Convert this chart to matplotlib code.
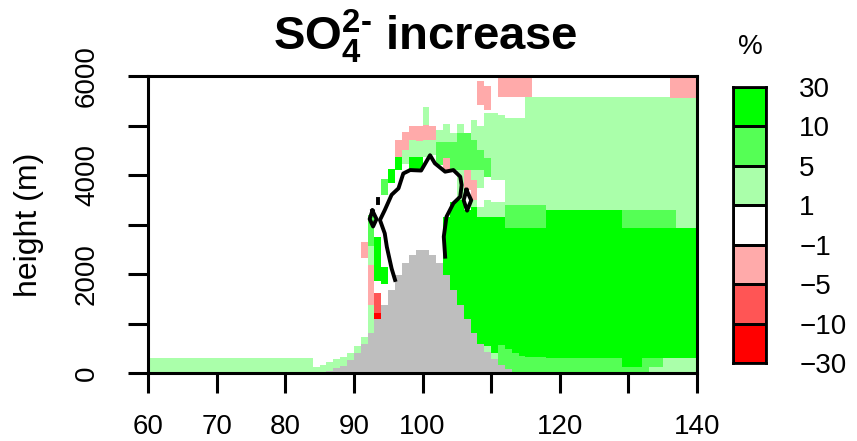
import matplotlib
matplotlib.use("Agg")
import matplotlib.pyplot as plt
import numpy as np
from matplotlib.colors import ListedColormap, BoundaryNorm

plt.rcParams['font.family'] = ['Liberation Sans', 'DejaVu Sans']
plt.rcParams['mathtext.fontset'] = 'custom'
plt.rcParams['mathtext.rm'] = 'Liberation Sans:bold'
plt.rcParams['mathtext.bf'] = 'Liberation Sans:bold'

# change classes (%) and colours
levels = [-30, -10, -5, -1, 1, 5, 10, 30]
level_labels = ['\u221230', '\u221210', '\u22125', '\u22121', '1', '5', '10', '30']
class_colors = ['#FF0000', '#FF5555', '#FFAAAA', '#FFFFFF', '#AAFFAA', '#55FF55', '#00FF00']
# letter -> a value inside each class
class_value = {'D': -20, 'R': -7, 'P': -3, 'W': 0, 'L': 3, 'M': 7, 'G': 20}

lon_first, lon_last = 60, 140

# surface height (m) of each 1 degree column, 60..139
terrain = [0] * 26 + [50, 100, 140, 270, 410, 590, 800, 1090, 1375, 1680,
                      1980, 2220, 2380, 2480, 2480, 2390, 2220, 1980, 1680, 1375,
                      1090, 815, 585, 430, 280, 160, 90, 30] + [0] * 26

# column profiles: first col, last col, "class top class top ..." from the ground up
profiles = [
    (60, 83, "L 300 W 6000"),
    (84, 84, "L 120 W 6000"),
    (85, 85, "L 160 W 6000"),
    (86, 86, "L 230 W 6000"),
    (87, 87, "L 280 W 6000"),
    (88, 88, "L 320 W 6000"),
    (89, 89, "L 410 W 6000"),
    (90, 90, "L 545 W 6000"),
    (91, 91, "L 730 W 2320 P 2650 W 6000"),
    (92, 92, "L 1375 P 2180 L 2560 M 3200 W 6000"),
    (93, 93, "D 1210 R 1620 W 1850 G 2750 W 6000"),
    (94, 94, "W 1800 G 2150 W 3600 M 3920 W 6000"),
    (95, 95, "W 3830 G 4135 W 6000"),
    (96, 96, "W 4100 G 4370 P 4700 W 6000"),
    (97, 97, "W 4230 L 4510 P 4870 W 6000"),
    (98, 98, "W 4100 G 4370 L 4700 P 4980 W 6000"),
    (99, 99, "W 4100 G 4370 L 4680 P 4980 W 6000"),
    (100, 100, "W 4370 L 4700 P 5010 L 5380 W 6000"),
    (101, 101, "W 4400 L 4700 P 4980 W 6000"),
    (102, 102, "W 4200 M 4670 L 4900 W 6000"),
    (103, 103, "G 3150 W 4100 P 4340 M 4670 L 5040 W 6000"),
    (104, 104, "G 3450 W 4100 M 4670 L 4840 W 6000"),
    (105, 105, "G 3500 L 4100 M 4840 L 5040 W 6000"),
    (106, 106, "G 3300 W 3700 P 4100 M 4840 W 6000"),
    (107, 107, "G 3350 L 3500 P 3900 L 4100 M 4700 L 5110 W 6000"),
    (108, 108, "G 3160 L 3360 W 3730 L 4100 M 4500 L 4980 W 5420 P 5890 W 6000"),
    (109, 109, "L 545 G 3160 L 3500 W 3950 M 4340 L 5250 W 5310 P 5790 W 6000"),
    (110, 110, "L 410 G 3160 L 3460 W 3900 L 5250 W 6000"),
    (111, 111, "M 560 G 3160 L 3460 W 3900 L 5210 W 5580 P 6000"),
    (112, 112, "M 480 G 2920 M 3390 L 5150 W 5580 P 6000"),
    (113, 113, "M 400 G 2920 M 3390 L 5150 W 5580 P 6000"),
    (114, 114, "M 340 G 2920 M 3390 L 5150 W 5580 P 6000"),
    (115, 115, "M 330 G 2920 M 3390 L 5580 P 6000"),
    (116, 117, "M 320 G 2920 M 3390 L 5580 W 6000"),
    (118, 128, "M 300 G 3290 L 5580 W 6000"),
    (129, 131, "M 130 G 2920 M 3290 L 5580 W 6000"),
    (132, 132, "M 300 G 2920 M 3290 L 5580 W 6000"),
    (133, 134, "L 130 M 300 G 2920 M 3290 L 5580 W 6000"),
    (135, 135, "L 300 G 2920 M 3290 L 5580 W 6000"),
    (136, 136, "L 300 G 2920 M 3290 L 5560 P 6000"),
    (137, 139, "L 300 G 2920 L 5560 P 6000"),
]

# black outline
outline_x = [96.0, 95.5, 94.8, 94.5, 93.8, 94.5, 95.5, 96.5, 97.2, 98.2, 99.8, 101.1,
             101.8, 103.3, 104.5, 105.5, 105.7, 105.5, 104.5, 103.5, 103.1, 103.3]
outline_z = [1880, 2110, 2550, 2820, 3090, 3290, 3600, 3730, 4030, 4100, 4090, 4400,
             4236, 4067, 4100, 3966, 3798, 3562, 3428, 3158, 2754, 2350]
left_ring_x = [92.7, 93.3, 92.8, 92.3, 92.7]
left_ring_z = [3280, 3110, 2960, 3110, 3280]
right_ring_x = [106.4, 107.1, 106.5, 106.0, 106.4]
right_ring_z = [3700, 3490, 3280, 3490, 3700]
dot_x = [93.5, 93.5]
dot_z = [3440, 3520]

xticks = list(range(60, 141, 10))
xtick_labels = ['60', '70', '80', '90', '100', '', '120', '', '140']
yticks = list(range(0, 6001, 1000))
ytick_labels = ['0', '', '2000', '', '4000', '', '6000']

# build the gridded field
lon_edges = np.arange(lon_first, lon_last + 1)
z_edges = np.arange(0, 6001, 10)
z_mid = z_edges[:-1] + 5
field = np.zeros((len(z_mid), len(lon_edges) - 1))
for first, last, prof in profiles:
    tok = prof.split()
    col = np.zeros(len(z_mid))
    bottom = 0
    for code, top in zip(tok[0::2], tok[1::2]):
        top = int(top)
        col[(z_mid >= bottom) & (z_mid < top)] = class_value[code]
        bottom = top
    field[:, first - lon_first:last - lon_first + 1] = col[:, None]

cmap = ListedColormap(class_colors)
norm = BoundaryNorm(levels, cmap.N)

W, H = 857, 441
fig = plt.figure(figsize=(W / 100, H / 100), dpi=100)
ax = fig.add_axes([148 / W, 1 - 373 / H, 549 / W, 297 / H])

ax.pcolormesh(lon_edges, z_edges, field, cmap=cmap, norm=norm, shading='flat')
ax.stairs(terrain, lon_edges, baseline=0, fill=True, color='#BEBEBE')
for xs, zs in [(outline_x, outline_z), (left_ring_x, left_ring_z),
               (right_ring_x, right_ring_z), (dot_x, dot_z)]:
    ax.plot(xs, zs, color='black', lw=2.8, solid_joinstyle='round')

ax.set_xlim(lon_first, lon_last)
ax.set_ylim(0, 6000)
ax.set_xticks(xticks)
ax.set_xticklabels(xtick_labels, fontsize=20)
ax.set_yticks(yticks)
ax.set_yticklabels(ytick_labels, fontsize=20, rotation=90, va='center')
ax.tick_params(axis='both', direction='out', length=14.5, width=2.2, color='black')
ax.tick_params(axis='x', pad=15)
ax.tick_params(axis='y', pad=20)
for s in ax.spines.values():
    s.set_linewidth(2.2)
ax.set_ylabel('height (m)', fontsize=23)
ax.yaxis.set_label_coords(-0.19, 0.5)

fig.text(425 / W, 1 - 50 / H, r'$\mathrm{SO_4^{2\text{-}}}$ increase', fontsize=34,
         fontweight='bold', ha='center', va='baseline')

# class legend
cax = fig.add_axes([733 / W, 1 - 363 / H, 33 / W, 276 / H])
cax.pcolormesh([0, 1], np.arange(len(levels)), np.array(list(class_value.values()))[:, None],
               cmap=cmap, norm=norm, edgecolors='black', linewidth=2)
cax.set_xlim(0, 1)
cax.set_ylim(0, len(levels) - 1)
cax.set_xticks([])
cax.yaxis.tick_right()
cax.set_yticks(np.arange(len(levels)))
cax.set_yticklabels(level_labels, fontsize=20)
cax.tick_params(axis='y', length=0, pad=24)
for s in cax.spines.values():
    s.set_linewidth(2)
fig.text(750 / W, 1 - 47 / H, '%', fontsize=20, ha='center', va='center')

fig.savefig('out.png', dpi=100)
